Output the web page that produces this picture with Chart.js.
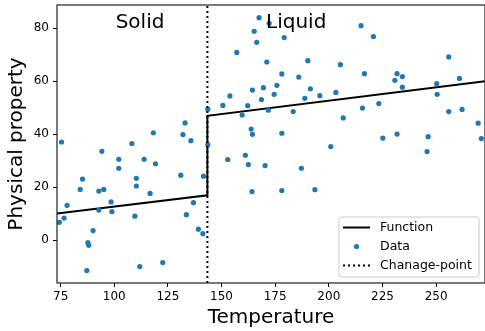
<!DOCTYPE html>
<html>
<head>
<meta charset="utf-8">
<script src="https://cdn.jsdelivr.net/npm/chart.js@4.4.0/dist/chart.umd.min.js"></script>
<style>
  body { margin: 0; background: #fff; }
  #wrap { width: 485px; height: 331px; }
</style>
</head>
<body>
<div id="wrap"><canvas id="phaseChart"></canvas></div>
<script>
// Measured points (temperature, property)
const dataX = [75.4, 118.2, 132.0, 135.7, 143.6, 108.2, 94.2, 102.1, 113.9, 119.2,
               102.1, 85.2, 110.3, 131.0, 141.6, 84.1, 92.8, 95.1, 110.3, 116.7,
               98.5, 78.0, 92.8, 98.9, 136.9, 76.6, 74.4, 109.6, 133.6, 90.1,
               139.2, 141.3, 87.7, 88.1, 111.9, 122.6, 87.2, 133.0,
               143.6, 167.5, 172.2, 165.2, 166.4, 179.2, 157.1, 171.1, 190.2, 205.4,
               178.1, 186.0, 175.8, 164.4, 169.5, 191.4, 153.9, 174.5, 168.6, 188.8,
               195.8, 203.3, 150.6, 162.2, 171.8, 183.4, 159.6, 206.7, 163.8, 164.4,
               178.1, 215.0, 220.8, 216.6, 231.8, 230.8, 234.3, 234.3, 255.9, 260.9,
               250.3, 250.5, 215.7, 223.3, 255.9, 262.1, 269.6, 225.2, 231.8, 246.3,
               271.1, 152.9, 161.1, 162.5, 170.3, 187.2, 200.9, 164.2, 178.1, 193.5,
               245.8];
const dataY = [37.1, 40.6, 39.9, 37.6, 36.1, 36.5, 33.6, 30.6, 30.6, 28.9,
               27.2, 23.1, 23.4, 24.6, 24.2, 19.2, 18.6, 19.2, 20.5, 17.7,
               14.5, 13.2, 11.4, 10.8, 14.2, 8.4, 6.8, 9.1, 9.7, 3.7,
               4.2, 2.5, -0.9, -1.9, -9.9, -8.4, -11.4, 44.3,
               49.5, 84.0, 81.9, 78.9, 74.7, 76.5, 70.9, 67.3, 67.8, 66.3,
               62.8, 61.6, 58.5, 56.7, 57.6, 57.2, 54.5, 55.1, 53.1, 53.6,
               54.6, 55.8, 50.9, 50.8, 49.1, 48.6, 47.3, 46.2, 42.0, 40.0,
               40.4, 81.0, 76.9, 62.9, 62.9, 60.4, 61.8, 57.8, 69.2, 61.1,
               59.1, 55.1, 49.9, 51.6, 48.6, 49.4, 44.2, 38.6, 40.1, 39.1,
               38.4, 30.5, 32.1, 28.6, 28.2, 27.2, 35.4, 18.4, 18.8, 19.1,
               33.5];

// Fitted piecewise function
const funcX = [73.3, 143.4, 143.4, 272.8];
const funcY = [10.1, 17.0, 47.0, 60.0];

const changePoint = 143.4;
const xRange = [73.3, 272.8];
const yRange = [-16.1, 88.8];
const xTicks = [75, 100, 125, 150, 175, 200, 225, 250];
const yTicks = [0, 20, 40, 60, 80];

const phaseNames = ['Solid', 'Liquid'];
const legendNames = ['Function', 'Data', 'Chanage-point'];

const FONT = '"DejaVu Sans", sans-serif';
const BLUE = '#1f77b4';

const overlay = {
    id: 'overlay',
    afterDraw(chart) {
        const { ctx, chartArea: a, scales } = chart;
        ctx.save();

        // frame on all four sides
        ctx.strokeStyle = '#222';
        ctx.lineWidth = 1.2;
        ctx.strokeRect(a.left, a.top, a.right - a.left, a.bottom - a.top);

        // phase labels
        ctx.fillStyle = '#000';
        ctx.font = '20px ' + FONT;
        ctx.textAlign = 'center';
        ctx.textBaseline = 'middle';
        ctx.fillText(phaseNames[0], scales.x.getPixelForValue(112), a.top + 18);
        ctx.fillText(phaseNames[1], scales.x.getPixelForValue(184.8), a.top + 18);

        // legend box (lower right)
        const bw = 140, bh = 60;
        const bx = a.right - 6 - bw, by = a.bottom - 6 - bh;
        ctx.beginPath();
        ctx.roundRect(bx, by, bw, bh, 3);
        ctx.fillStyle = 'rgba(255,255,255,0.85)';
        ctx.fill();
        ctx.strokeStyle = '#cccccc';
        ctx.lineWidth = 1;
        ctx.stroke();

        const rows = [by + 10.5, by + 29.5, by + 48.5];
        const sx = bx + 4, ex = bx + 31;

        ctx.strokeStyle = '#000';
        ctx.lineWidth = 2;
        ctx.beginPath();
        ctx.moveTo(sx, rows[0]);
        ctx.lineTo(ex, rows[0]);
        ctx.stroke();

        ctx.fillStyle = BLUE;
        ctx.beginPath();
        ctx.arc((sx + ex) / 2, rows[1], 2.6, 0, Math.PI * 2);
        ctx.fill();

        ctx.setLineDash([2, 3]);
        ctx.beginPath();
        ctx.moveTo(sx, rows[2]);
        ctx.lineTo(ex, rows[2]);
        ctx.stroke();
        ctx.setLineDash([]);

        ctx.fillStyle = '#000';
        ctx.font = '12.5px ' + FONT;
        ctx.textAlign = 'left';
        legendNames.forEach((name, i) => ctx.fillText(name, bx + 41, rows[i]));

        ctx.restore();
    }
};

document.addEventListener('DOMContentLoaded', function() {
    const ctx = document.getElementById('phaseChart');
    new Chart(ctx, {
        type: 'scatter',
        data: {
            datasets: [
                {
                    label: legendNames[0],
                    type: 'line',
                    data: funcX.map((x, i) => ({ x: x, y: funcY[i] })),
                    borderColor: '#000',
                    borderWidth: 2,
                    pointRadius: 0,
                    fill: false,
                    tension: 0,
                    order: 3
                },
                {
                    label: legendNames[1],
                    data: dataX.map((x, i) => ({ x: x, y: dataY[i] })),
                    backgroundColor: BLUE,
                    borderWidth: 0,
                    pointRadius: 2.6,
                    order: 2
                },
                {
                    label: legendNames[2],
                    type: 'line',
                    data: [{ x: changePoint, y: yRange[0] }, { x: changePoint, y: yRange[1] }],
                    borderColor: '#000',
                    borderWidth: 2,
                    borderDash: [2, 3],
                    pointRadius: 0,
                    fill: false,
                    order: 1
                }
            ]
        },
        options: {
            responsive: true,
            maintainAspectRatio: false,
            animation: false,
            layout: { autoPadding: false, padding: { top: 5, right: 0, left: 0, bottom: 0 } },
            plugins: {
                legend: { display: false },
                tooltip: { enabled: false }
            },
            scales: {
                x: {
                    type: 'linear',
                    min: xRange[0],
                    max: xRange[1],
                    afterBuildTicks: function(scale) {
                        scale.ticks = xTicks.map(v => ({ value: v }));
                    },
                    afterFit: function(scale) {
                        scale.height = 48;
                        scale.paddingLeft = 0;
                        scale.paddingRight = 0;
                    },
                    border: { display: false },
                    grid: {
                        drawOnChartArea: false,
                        drawTicks: true,
                        tickLength: 4,
                        color: '#000',
                        tickColor: '#000'
                    },
                    ticks: {
                        color: '#000',
                        padding: 3,
                        maxRotation: 0,
                        font: { family: FONT, size: 12 }
                    },
                    title: {
                        display: true,
                        text: 'Temperature',
                        color: '#000',
                        padding: { top: 0, bottom: 1 },
                        font: { family: FONT, size: 20 }
                    }
                },
                y: {
                    type: 'linear',
                    min: yRange[0],
                    max: yRange[1],
                    afterBuildTicks: function(scale) {
                        scale.ticks = yTicks.map(v => ({ value: v }));
                    },
                    afterFit: function(scale) {
                        scale.width = 57;
                        scale.paddingTop = 0;
                        scale.paddingBottom = 0;
                    },
                    border: { display: false },
                    grid: {
                        drawOnChartArea: false,
                        drawTicks: true,
                        tickLength: 4,
                        color: '#000',
                        tickColor: '#000'
                    },
                    ticks: {
                        color: '#000',
                        padding: 4,
                        font: { family: FONT, size: 12 }
                    },
                    title: {
                        display: true,
                        text: 'Physical property',
                        color: '#000',
                        padding: { top: 5, bottom: 0 },
                        font: { family: FONT, size: 20 }
                    }
                }
            }
        },
        plugins: [overlay]
    });
});
</script>
</body>
</html>
